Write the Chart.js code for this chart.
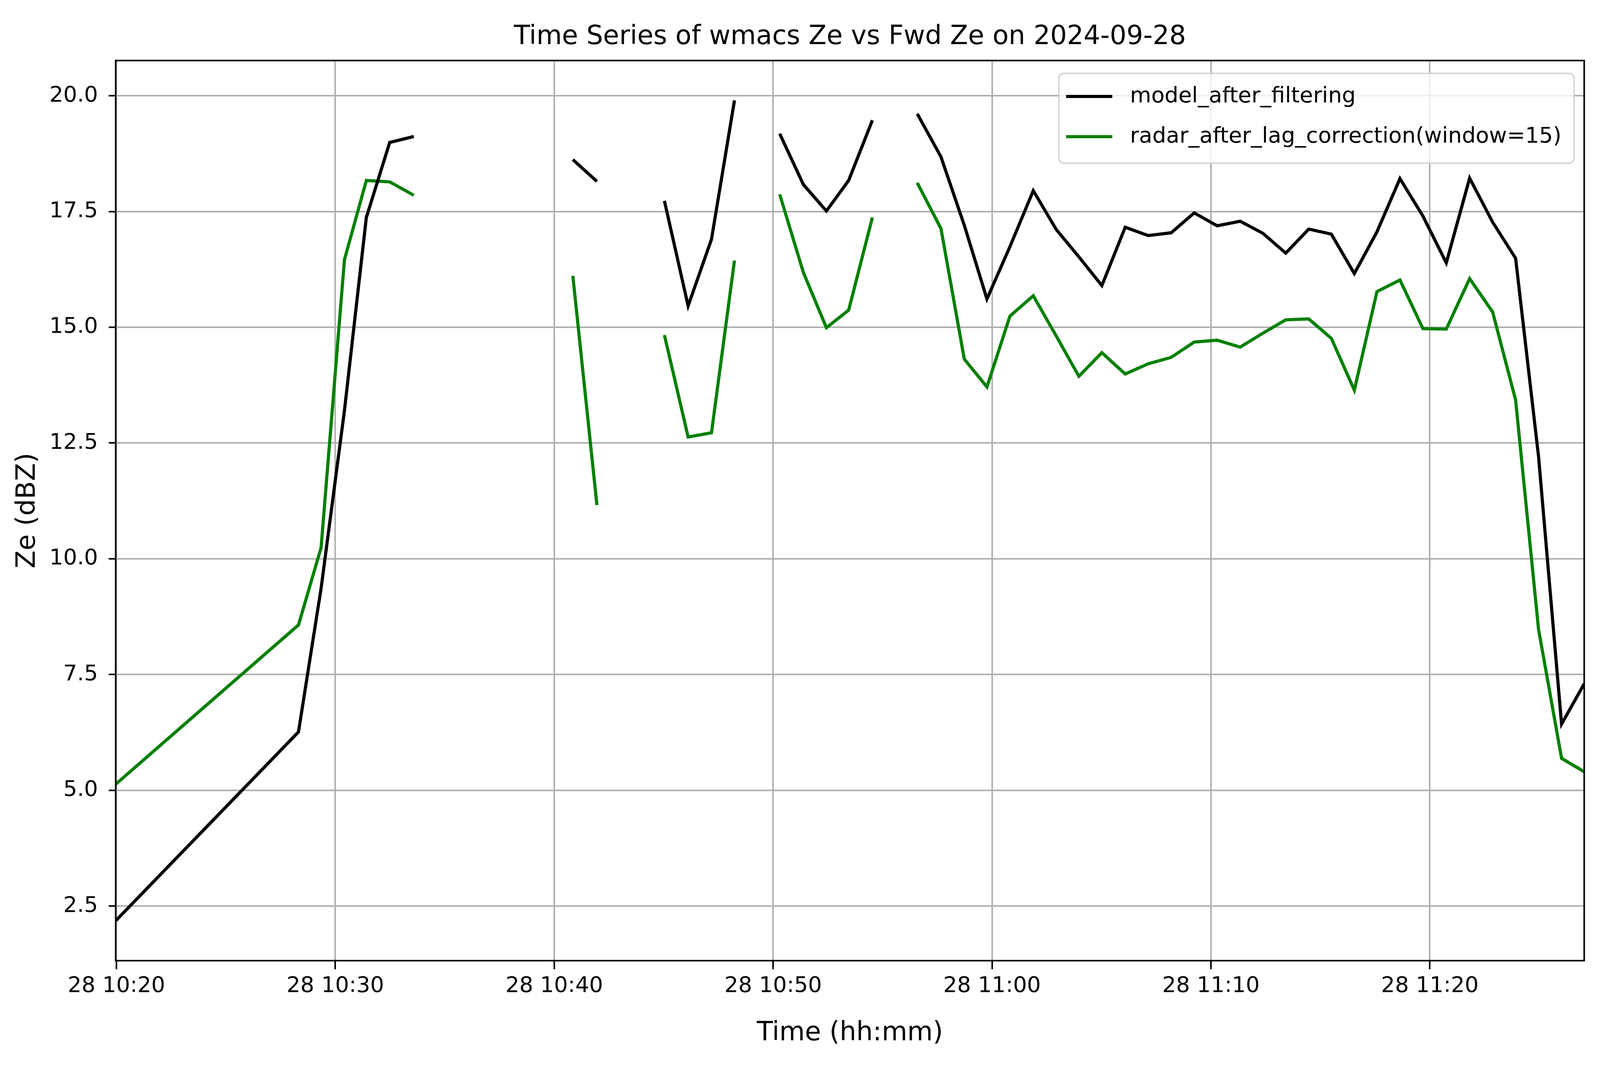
<!DOCTYPE html>
<html>
<head>
<meta charset="utf-8">
<title>Time Series of wmacs Ze vs Fwd Ze on 2024-09-28</title>
<script src="https://cdn.jsdelivr.net/npm/chart.js@4.4.1/dist/chart.umd.min.js"></script>
<style>
  html, body { margin: 0; padding: 0; background: #fff; overflow: hidden; }
  canvas { display: block; }
</style>
</head>
<body>
<canvas id="zeChart"></canvas>
<script>
// sample times (hh:mm:ss); entries with null values break the lines
const times = [
    '10:19:58', '10:28:19', '10:29:21', '10:30:25', '10:31:25', '10:32:29', '10:33:35',
    '10:37:00',
    '10:40:51', '10:41:57',
    '10:43:30',
    '10:45:02', '10:46:07', '10:47:11', '10:48:14',
    '10:49:15',
    '10:50:18', '10:51:23', '10:52:26', '10:53:27', '10:54:32',
    '10:55:35',
    '10:56:35', '10:57:40', '10:58:44', '10:59:46', '11:00:49', '11:01:53', '11:02:56', '11:03:58',
    '11:05:01', '11:06:05', '11:07:08', '11:08:11', '11:09:14', '11:10:17', '11:11:20',
    '11:12:22', '11:13:25', '11:14:28', '11:15:30', '11:16:33', '11:17:35', '11:18:38', '11:19:41',
    '11:20:45', '11:21:49', '11:22:52', '11:23:55', '11:24:58', '11:26:01', '11:27:03'
];

const modelZe = [
    2.18, 6.26, 9.36, 13.2, 17.37, 18.99, 19.12,
    null,
    18.62, 18.15,
    null,
    17.73, 15.46, 16.90, 19.90,
    null,
    19.18, 18.08, 17.51, 18.17, 19.47,
    null,
    19.61, 18.68, 17.2, 15.61, 16.74, 17.95, 17.11, 16.52,
    15.90, 17.16, 16.98, 17.04, 17.47, 17.19, 17.29,
    17.03, 16.60, 17.12, 17.01, 16.16, 17.06, 18.21, 17.40,
    16.39, 18.22, 17.27, 16.49, 12.20, 6.43, 7.30
];

const radarZe = [
    5.13, 8.57, 10.24, 16.46, 18.17, 18.14, 17.85,
    null,
    16.11, 11.16,
    null,
    14.83, 12.63, 12.72, 16.44,
    null,
    17.87, 16.18, 14.99, 15.37, 17.37,
    null,
    18.12, 17.13, 14.31, 13.71, 15.24, 15.68, 14.81, 13.94,
    14.45, 13.99, 14.21, 14.35, 14.68, 14.72, 14.57,
    14.87, 15.16, 15.18, 14.76, 13.64, 15.77, 16.02, 14.97,
    14.96, 16.05, 15.33, 13.43, 8.47, 5.69, 5.40
];

const seriesLabels = ['model_after_filtering', 'radar_after_lag_correction(window=15)'];
const xTickTimes = ['10:20', '10:30', '10:40', '10:50', '11:00', '11:10', '11:20'];
const xTickLabels = ['28 10:20', '28 10:30', '28 10:40', '28 10:50', '28 11:00', '28 11:10', '28 11:20'];
const yTicks = [2.5, 5.0, 7.5, 10.0, 12.5, 15.0, 17.5, 20.0];

const fontFamily = "'DejaVu Sans', sans-serif";
const modelColor = '#000000';
const radarColor = '#008000';
const gridColor = '#b0b0b0';

// layout is measured on the 5062 x 2740 figure, then fitted to the window
const FIG_W = 5062, FIG_H = 2740;
const winW = window.innerWidth || FIG_W;
const winH = window.innerHeight || FIG_H;
const kx = winW / FIG_W;
const ky = winH / FIG_H;
const px = v => v * kx;   // horizontal positions
const py = v => v * ky;   // vertical positions
const fs = v => v * kx;   // font sizes and line widths

// minutes since midnight
function toMinutes(t) {
    const p = t.split(':').map(Number);
    return p[0] * 60 + p[1] + (p[2] || 0) / 60;
}

const xs = times.map(toMinutes);
const tickValues = xTickTimes.map(toMinutes);

function points(values) {
    return values.map((v, i) => ({ x: xs[i], y: v }));
}

// title, legend and full box drawn the way matplotlib lays them out
const figureDecor = {
    id: 'figureDecor',
    afterDraw(chart) {
        const ctx = chart.ctx;
        const a = chart.chartArea;
        ctx.save();

        // title
        ctx.fillStyle = '#000';
        ctx.font = fs(83) + 'px ' + fontFamily;
        ctx.textAlign = 'center';
        ctx.textBaseline = 'alphabetic';
        ctx.fillText('Time Series of wmacs Ze vs Fwd Ze on 2024-09-28', (a.left + a.right) / 2, py(113));

        // legend
        ctx.beginPath();
        ctx.roundRect(px(3350), py(188), px(1630), py(230), fs(16));
        ctx.fillStyle = 'rgba(255,255,255,0.8)';
        ctx.fill();
        ctx.lineWidth = fs(5);
        ctx.strokeStyle = 'rgba(204,204,204,0.8)';
        ctx.stroke();

        const rows = [247, 350];
        const colors = [modelColor, radarColor];
        ctx.font = fs(69) + 'px ' + fontFamily;
        ctx.textAlign = 'left';
        ctx.textBaseline = 'middle';
        rows.forEach((y, i) => {
            ctx.beginPath();
            ctx.moveTo(px(3373), py(y));
            ctx.lineTo(px(3519), py(y));
            ctx.lineWidth = fs(10);
            ctx.strokeStyle = colors[i];
            ctx.stroke();
            ctx.fillStyle = '#000';
            ctx.fillText(seriesLabels[i], px(3575), py(y));
        });

        // axes box
        ctx.lineWidth = fs(5);
        ctx.strokeStyle = '#000';
        ctx.strokeRect(a.left, a.top, a.right - a.left, a.bottom - a.top);
        ctx.restore();
    }
};

const canvas = document.getElementById('zeChart');
canvas.width = winW;
canvas.height = winH;
canvas.style.width = winW + 'px';
canvas.style.height = winH + 'px';

const labelFont = fs(83);
const tickFont = fs(69);

new Chart(canvas.getContext('2d'), {
    type: 'line',
    data: {
        datasets: [
            {
                label: seriesLabels[0],
                data: points(modelZe),
                borderColor: modelColor,
                borderWidth: fs(10),
                pointRadius: 0,
                tension: 0,
                spanGaps: false,
                fill: false
            },
            {
                label: seriesLabels[1],
                data: points(radarZe),
                borderColor: radarColor,
                borderWidth: fs(10),
                pointRadius: 0,
                tension: 0,
                spanGaps: false,
                fill: false
            }
        ]
    },
    options: {
        responsive: false,
        maintainAspectRatio: false,
        animation: false,
        layout: { padding: { left: 0, top: py(155), right: px(50), bottom: 0 } },
        plugins: {
            legend: { display: false },
            title: { display: false },
            tooltip: { enabled: false }
        },
        scales: {
            x: {
                type: 'linear',
                min: xs[0],
                max: xs[xs.length - 1],
                afterBuildTicks: s => { s.ticks = tickValues.map(v => ({ value: v })); },
                afterFit: s => { s.height = py(280); },
                ticks: {
                    color: '#000',
                    font: { family: fontFamily, size: tickFont },
                    padding: py(10),
                    maxRotation: 0,
                    autoSkip: false,
                    callback: v => xTickLabels[tickValues.indexOf(v)]
                },
                grid: { color: gridColor, lineWidth: fs(5), tickColor: '#000', tickLength: py(22), tickWidth: fs(5) },
                border: { display: false },
                title: {
                    display: true,
                    text: 'Time (hh:mm)',
                    color: '#000',
                    font: { family: fontFamily, size: labelFont },
                    padding: { top: 0, bottom: py(93) - labelFont * 0.6 }
                }
            },
            y: {
                type: 'linear',
                min: 1.32,
                max: 20.76,
                afterBuildTicks: s => { s.ticks = yTicks.map(v => ({ value: v })); },
                afterFit: s => { s.width = px(366); },
                ticks: {
                    color: '#000',
                    font: { family: fontFamily, size: tickFont },
                    padding: px(34),
                    callback: v => v.toFixed(1)
                },
                grid: { color: gridColor, lineWidth: fs(5), tickColor: '#000', tickLength: px(22), tickWidth: fs(5) },
                border: { display: false },
                title: {
                    display: true,
                    text: 'Ze (dBZ)',
                    color: '#000',
                    font: { family: fontFamily, size: labelFont },
                    padding: { top: px(88) - labelFont * 0.6, bottom: 0 }
                }
            }
        }
    },
    plugins: [figureDecor]
});
</script>
</body>
</html>
